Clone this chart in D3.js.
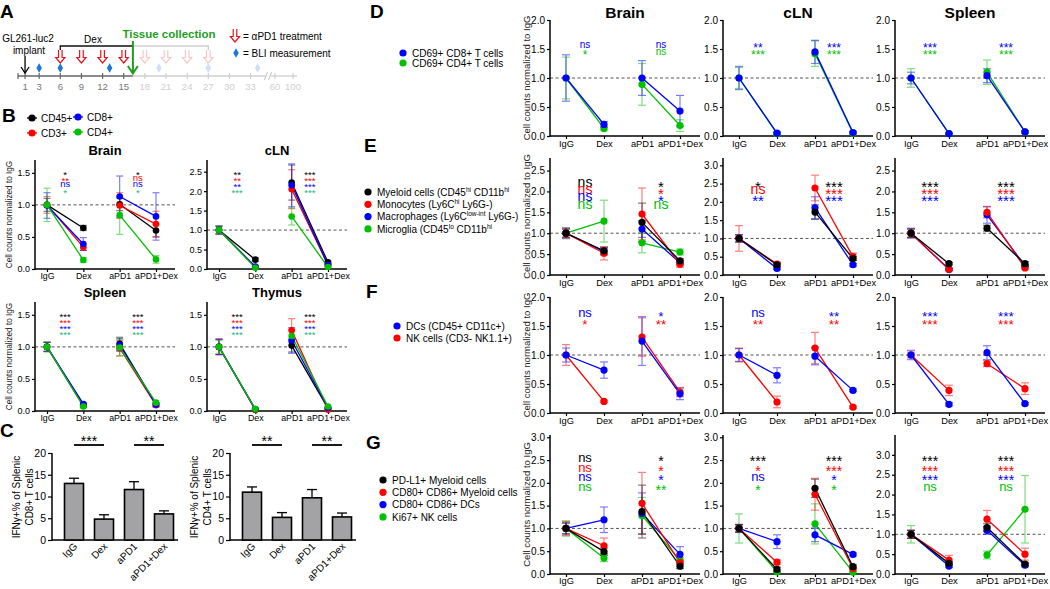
<!DOCTYPE html>
<html><head><meta charset="utf-8">
<script src="https://cdn.jsdelivr.net/npm/d3@7"></script>
<style>body{margin:0;background:#fff}svg{display:block}</style>
</head><body><svg id="chart" width="1050" height="589"></svg>
<script>
// ---------------- DATA ----------------
const groups = ["IgG", "Dex", "aPD1", "aPD1+Dex"];

// Panel A timeline
const tlDays = [1, 3, 6, 9, 12, 15, 18, 21, 24, 27, 30, 33];
const tlLateLabels = ["60", "100"];
const pd1Days = [6, 9, 12, 15, 18, 21, 24, 27];
const bliDays = [3, 6, 13, 20, 27, 34];
const dexStart = 6, dexEnd = 27, implantDay = 1, tissueDay = 16.3;

// Panel B (rows: CD45+, CD3+, CD8+, CD4+; cols: groups)
const bSeries = ["CD45+", "CD3+", "CD8+", "CD4+"];
const bBrainMean = [[1.0, 0.64, 1.01, 0.60], [1.0, 0.34, 0.99, 0.70], [0.99, 0.39, 1.13, 0.82], [1.0, 0.14, 0.84, 0.15]];
const bBrainErr = [[0.10, 0.04, 0.10, 0.10], [0.13, 0.05, 0.20, 0.20], [0.20, 0.10, 0.32, 0.37], [0.26, 0.04, 0.30, 0.06]];
const bCLNMean = [[1.0, 0.24, 2.22, 0.17], [1.0, 0.05, 2.05, 0.10], [1.0, 0.06, 2.15, 0.10], [1.0, 0.03, 1.35, 0.05]];
const bCLNErr = [[0.10, 0.04, 0.45, 0.03], [0.10, 0.02, 0.50, 0.02], [0.10, 0.02, 0.55, 0.02], [0.10, 0.02, 0.22, 0.02]];
const bSpleenMean = [[1.0, 0.09, 1.05, 0.10], [1.0, 0.08, 0.98, 0.09], [1.0, 0.11, 1.03, 0.10], [1.0, 0.07, 0.99, 0.13]];
const bSpleenErr = [[0.07, 0.02, 0.10, 0.03], [0.07, 0.02, 0.12, 0.03], [0.07, 0.02, 0.10, 0.03], [0.08, 0.02, 0.13, 0.03]];
const bThymusMean = [[1.0, 0.02, 1.02, 0.04], [1.0, 0.02, 1.26, 0.02], [1.0, 0.03, 1.10, 0.05], [1.0, 0.03, 1.17, 0.07]];
const bThymusErr = [[0.12, 0.01, 0.10, 0.01], [0.12, 0.01, 0.18, 0.01], [0.12, 0.01, 0.20, 0.01], [0.10, 0.01, 0.10, 0.01]];
const bBrainSig = [["*", "**", "ns", "*"], ["*", "ns", "ns", "*"]];
const bCLNSig = [["**", "**", "**", "***"], ["***", "***", "***", "***"]];
const bSpleenSig = [["***", "***", "***", "***"], ["***", "***", "***", "***"]];
const bThymusSig = [["***", "***", "***", "***"], ["***", "***", "***", "***"]];

// Panel C
const cCD8 = [13.0, 4.8, 11.6, 6.0];
const cCD8Err = [1.2, 1.0, 1.8, 0.7];
const cCD4 = [11.0, 5.2, 9.7, 5.3];
const cCD4Err = [1.2, 1.1, 1.9, 0.9];
const cCD8Sig = ["***", "**"];
const cCD4Sig = ["**", "**"];

// Panel D (rows: CD69+CD8+, CD69+CD4+)
const dSeries = ["CD69+ CD8+ T cells", "CD69+ CD4+ T cells"];
const dBrainMean = [[1.0, 0.20, 1.0, 0.43], [1.0, 0.13, 0.89, 0.18]];
const dBrainErr = [[0.40, 0.05, 0.30, 0.27], [0.36, 0.03, 0.36, 0.10]];
const dCLNMean = [[1.0, 0.05, 1.45, 0.06], [1.0, 0.04, 1.42, 0.05]];
const dCLNErr = [[0.20, 0.02, 0.20, 0.02], [0.18, 0.02, 0.22, 0.02]];
const dSpleenMean = [[1.0, 0.04, 1.04, 0.07], [1.0, 0.04, 1.10, 0.07]];
const dSpleenErr = [[0.10, 0.01, 0.12, 0.02], [0.16, 0.01, 0.21, 0.02]];
const dBrainSig = [["ns", "*"], ["ns", "ns"]];
const dCLNSig = [["**", "***"], ["***", "***"]];
const dSpleenSig = [["***", "***"], ["***", "***"]];

// Panel E (rows: Myeloid, Monocytes, Macrophages, Microglia)
const eBrainMean = [[1.0, 0.58, 1.26, 0.34], [1.0, 0.52, 1.46, 0.26], [1.0, 0.56, 1.10, 0.29], [1.0, 1.29, 0.77, 0.55]];
const eBrainErr = [[0.13, 0.08, 0.46, 0.05], [0.10, 0.16, 0.62, 0.07], [0.10, 0.08, 0.20, 0.05], [0.10, 0.50, 0.24, 0.07]];
const eCLNMean = [[1.0, 0.28, 1.72, 0.45], [1.0, 0.30, 2.38, 0.50], [1.0, 0.18, 1.84, 0.28]];
const eCLNErr = [[0.10, 0.04, 0.20, 0.05], [0.35, 0.05, 0.35, 0.10], [0.10, 0.03, 0.30, 0.04]];
const eSpleenMean = [[1.0, 0.27, 1.12, 0.27], [1.0, 0.14, 1.50, 0.17], [1.0, 0.13, 1.44, 0.22]];
const eSpleenErr = [[0.10, 0.03, 0.07, 0.05], [0.10, 0.03, 0.13, 0.03], [0.12, 0.03, 0.20, 0.03]];
const eBrainSig = [["ns", "ns", "ns", "ns"], ["*", "*", "*", "ns"]];
const eCLNSig = [["*", "ns", "**"], ["***", "***", "***"]];
const eSpleenSig = [["***", "***", "***"], ["***", "***", "***"]];

// Panel F (rows: DCs, NK cells)
const fBrainMean = [[1.0, 0.74, 1.24, 0.33], [1.0, 0.20, 1.31, 0.36]];
const fBrainErr = [[0.12, 0.14, 0.42, 0.10], [0.18, 0.02, 0.33, 0.08]];
const fCLNMean = [[1.0, 0.65, 0.98, 0.39], [1.0, 0.19, 1.12, 0.10]];
const fCLNErr = [[0.11, 0.13, 0.15, 0.02], [0.12, 0.10, 0.27, 0.02]];
const fSpleenMean = [[1.0, 0.15, 1.04, 0.16], [1.0, 0.39, 0.85, 0.42]];
const fSpleenErr = [[0.08, 0.03, 0.12, 0.02], [0.05, 0.09, 0.05, 0.10]];
const fBrainSig = [["ns", "*"], ["*", "**"]];
const fCLNSig = [["ns", "**"], ["**", "**"]];
const fSpleenSig = [["***", "***"], ["***", "***"]];

// Panel G (rows: PD-L1+ Myeloid, CD80+CD86+ Myeloid, CD80+CD86+ DCs, Ki67+ NK)
const gBrainMean = [[1.0, 0.49, 1.37, 0.17], [1.0, 0.62, 1.55, 0.25], [1.0, 1.19, 1.33, 0.43], [1.0, 0.35, 1.28, 0.30]];
const gBrainErr = [[0.12, 0.08, 0.58, 0.05], [0.15, 0.17, 0.68, 0.05], [0.12, 0.28, 0.45, 0.17], [0.17, 0.08, 0.40, 0.06]];
const gCLNMean = [[1.0, 0.10, 1.88, 0.16], [1.0, 0.26, 1.75, 0.12], [1.0, 0.71, 0.86, 0.43], [1.0, 0.05, 1.10, 0.04]];
const gCLNErr = [[0.08, 0.05, 0.20, 0.04], [0.08, 0.05, 0.35, 0.03], [0.09, 0.15, 0.15, 0.03], [0.32, 0.02, 0.44, 0.02]];
const gSpleenMean = [[1.0, 0.27, 1.17, 0.25], [1.0, 0.35, 1.38, 0.50], [1.0, 0.20, 1.10, 0.22], [1.0, 0.25, 0.48, 1.63]];
const gSpleenErr = [[0.10, 0.04, 0.10, 0.04], [0.10, 0.12, 0.22, 0.15], [0.10, 0.04, 0.10, 0.04], [0.22, 0.05, 0.10, 0.85]];
const gBrainSig = [["ns", "ns", "ns", "ns"], ["*", "*", "*", "**"]];
const gCLNSig = [["***", "*", "ns", "*"], ["***", "***", "*", "*"]];
const gSpleenSig = [["***", "***", "***", "ns"], ["***", "***", "***", "ns"]];

// ---------------- DRAWING ----------------
const FONT = "'Liberation Sans', Arial, Helvetica, sans-serif";
const BLACK = "#000000", RED = "#ff0000", BLUE = "#0000ff", GREEN = "#00c000", TEAL = "#22b77a";
const svg = d3.select("#chart").style("font-family", FONT);

function txt(g, x, y, s, o = {}) {
  const t = g.append("text").attr("x", x).attr("y", y).text(s)
    .attr("font-size", o.fs || 10).attr("fill", o.fill || "#000")
    .attr("text-anchor", o.anchor || "start");
  if (o.bold) t.attr("font-weight", "bold");
  if (o.rot) t.attr("transform", `rotate(${o.rot},${x},${y})`);
  return t;
}

function letter(s, x, y) { txt(svg, x, y, s, { fs: 19, bold: true }); }

function sigText(g, cx, cy, s, color, nsFs, starFs) {
  if (s === "ns") txt(g, cx, cy + 0.27 * nsFs, s, { fs: nsFs, fill: color, anchor: "middle" });
  else txt(g, cx, cy + 0.58 * starFs, s, { fs: starFs, fill: color, anchor: "middle" });
}

function linePlot(cfg) {
  const g = svg.append("g");
  const x = d3.scalePoint().domain(groups).range([cfg.x0 + cfg.p0, cfg.x0 + cfg.p1]);
  const y = d3.scaleLinear().domain([0, cfg.yMax]).range([cfg.bottom, cfg.top]);
  g.append("line").attr("x1", cfg.x0).attr("x2", cfg.x0 + cfg.len)
    .attr("y1", y(1)).attr("y2", y(1))
    .attr("stroke", "#555").attr("stroke-width", 1).attr("stroke-dasharray", "3,2.5");
  const ya = g.append("g").attr("transform", `translate(${cfg.x0},0)`)
    .call(d3.axisLeft(y).tickValues(cfg.ticks).tickFormat(d3.format(".1f")).tickSize(3).tickPadding(2));
  const xa = g.append("g").attr("transform", `translate(0,${cfg.bottom})`)
    .call(d3.axisBottom(x).tickSize(3).tickPadding(cfg.xpad !== undefined ? cfg.xpad : 1));
  [ya, xa].forEach(a => {
    a.select(".domain").remove();
    a.attr("font-family", FONT).attr("font-size", cfg.tfs);
    a.selectAll("line").attr("stroke", "#000").attr("stroke-width", 1.2);
    a.selectAll("text").attr("fill", "#000");
  });
  xa.attr("font-size", cfg.xfs);
  g.append("line").attr("x1", cfg.x0).attr("x2", cfg.x0).attr("y1", cfg.top).attr("y2", cfg.bottom + 0.75)
    .attr("stroke", "#000").attr("stroke-width", 1.5);
  g.append("line").attr("x1", cfg.x0).attr("x2", cfg.x0 + cfg.len).attr("y1", cfg.bottom).attr("y2", cfg.bottom)
    .attr("stroke", "#000").attr("stroke-width", 1.5);

  cfg.series.forEach(s => {
    [[0, 1], [2, 3]].forEach(([a, b]) => {
      g.append("line").attr("x1", x(groups[a])).attr("x2", x(groups[b]))
        .attr("y1", y(s.mean[a])).attr("y2", y(s.mean[b]))
        .attr("stroke", s.color).attr("stroke-width", 1.3);
    });
    s.mean.forEach((m, i) => {
      const cx = x(groups[i]);
      const lo = y(Math.max(0, m - s.err[i])), hi = y(m + s.err[i]);
      const eg = g.append("g").attr("stroke", s.color).attr("stroke-width", 1.2).attr("opacity", 0.5);
      eg.append("line").attr("x1", cx).attr("x2", cx).attr("y1", lo).attr("y2", hi);
      eg.append("line").attr("x1", cx - cfg.cap).attr("x2", cx + cfg.cap).attr("y1", lo).attr("y2", lo);
      eg.append("line").attr("x1", cx - cfg.cap).attr("x2", cx + cfg.cap).attr("y1", hi).attr("y2", hi);
    });
  });
  cfg.series.forEach(s => {
    s.mean.forEach((m, i) => {
      g.append("circle").attr("cx", x(groups[i])).attr("cy", y(m)).attr("r", cfg.r).attr("fill", s.color);
    });
  });

  cfg.sig.forEach((col, gi) => {
    const cx = (x(groups[2 * gi]) + x(groups[2 * gi + 1])) / 2;
    col.forEach((lab, i) => sigText(g, cx, cfg.top + cfg.sigY[i], lab, cfg.sigColors[i], cfg.nsFs, cfg.starFs));
  });
  if (cfg.title) txt(g, cfg.x0 + cfg.len / 2, cfg.titleY, cfg.title, { fs: cfg.titleFs, bold: true, anchor: "middle" });
  if (cfg.ylabel) {
    const cy = (cfg.top + cfg.bottom) / 2;
    txt(g, cfg.ylabelX, cy, "Cell counts normalized to IgG", { fs: cfg.ylabelFs, anchor: "middle", rot: -90, fill: "#222" });
  }
}

function mkSeries(means, errs, colors, order) {
  return order.map(i => ({ mean: means[i], err: errs[i], color: colors[i] }));
}

function legend(items, x, y0, dy, fs, withLine) {
  items.forEach((it, i) => {
    const y = y0 + i * dy;
    if (withLine) svg.append("line").attr("x1", x - 5).attr("x2", x + 5).attr("y1", y).attr("y2", y).attr("stroke", it.color).attr("stroke-width", 1.3);
    svg.append("circle").attr("cx", x).attr("cy", y).attr("r", 3.6).attr("fill", it.color);
    const t = txt(svg, x + 9, y + fs * 0.36, "", { fs: fs });
    it.parts.forEach(p => {
      const ts = t.append("tspan").text(p[0]);
      if (p[1] === "sup") ts.attr("font-size", fs * 0.65).attr("dy", -fs * 0.38);
      if (p[1] === "base") ts.attr("dy", fs * 0.38);
    });
  });
}

// ---------- Panel A ----------
letter("A", 0, 18);
(function () {
  const g = svg.append("g");
  const tx = d3.scaleLinear().domain([0, 33]).range([18, 250.6]);
  const ty = 76;
  const dark = "#666", light = "#cfcfcf";
  g.append("line").attr("x1", tx(0)).attr("x2", tx(tissueDay)).attr("y1", ty).attr("y2", ty).attr("stroke", dark).attr("stroke-width", 1.3);
  g.append("line").attr("x1", tx(tissueDay)).attr("x2", 266).attr("y1", ty).attr("y2", ty).attr("stroke", light).attr("stroke-width", 1.3);
  g.append("line").attr("x1", 271).attr("x2", 297).attr("y1", ty).attr("y2", ty).attr("stroke", light).attr("stroke-width", 1.3);
  g.append("path").attr("d", "M264.5,80 L267.5,72 M268.5,80 L271.5,72").attr("stroke", light).attr("stroke-width", 1.2).attr("fill", "none");
  g.append("line").attr("x1", tx(0)).attr("x2", tx(0)).attr("y1", ty - 3).attr("y2", ty + 3).attr("stroke", dark).attr("stroke-width", 1.2);
  tlDays.forEach(d => {
    const c = d <= 15 ? dark : light;
    g.append("line").attr("x1", tx(d)).attr("x2", tx(d)).attr("y1", ty - 3).attr("y2", ty + 3).attr("stroke", c).attr("stroke-width", 1.2);
    txt(g, tx(d), 90, String(d), { fs: 9.5, anchor: "middle", fill: d <= 15 ? "#777" : "#cfcfcf" });
  });
  const late = d3.scalePoint().domain(tlLateLabels).range([275, 293]);
  tlLateLabels.forEach(l => {
    g.append("line").attr("x1", late(l)).attr("x2", late(l)).attr("y1", ty - 3).attr("y2", ty + 3).attr("stroke", light).attr("stroke-width", 1.2);
    txt(g, late(l), 90, l, { fs: 9.5, anchor: "middle", fill: "#cfcfcf" });
  });
  // Dex bracket
  const by = 46;
  g.append("path").attr("d", `M${tx(dexStart)},${by + 5} L${tx(dexStart)},${by} L${tx(tissueDay)},${by}`).attr("stroke", "#111").attr("fill", "none").attr("stroke-width", 1.3);
  g.append("path").attr("d", `M${tx(tissueDay)},${by} L${tx(dexEnd)},${by} L${tx(dexEnd)},${by + 5}`).attr("stroke", light).attr("fill", "none").attr("stroke-width", 1.3);
  txt(g, 93, 43, "Dex", { fs: 10, anchor: "middle" });
  // aPD1 arrows
  function hollowArrow(cx, top, col) {
    const h = 13, sw = 1.8, hw = 4.6, hh = 5.5;
    g.append("path").attr("d", `M${cx - sw},${top} L${cx - sw},${top + h - hh} L${cx - hw},${top + h - hh} L${cx},${top + h} L${cx + hw},${top + h - hh} L${cx + sw},${top + h - hh} L${cx + sw},${top}`)
      .attr("stroke", col).attr("fill", "#fff").attr("stroke-width", 1.2);
  }
  pd1Days.forEach(d => hollowArrow(tx(d), 50, d <= 15 ? "#e8141b" : "#f6c9c9"));
  bliDays.forEach(d => {
    g.append("path").attr("d", d3.symbol().type(d3.symbolDiamond).size(26)()).attr("transform", `translate(${tx(d)},68)`)
      .attr("fill", d <= 15 ? "#1a78d6" : "#cfe0f4");
  });
  // implant arrow
  const ix = tx(implantDay);
  g.append("line").attr("x1", ix).attr("x2", ix).attr("y1", 56).attr("y2", 73).attr("stroke", "#000").attr("stroke-width", 1.3);
  g.append("path").attr("d", `M${ix - 4},67 L${ix},73 L${ix + 4},67`).attr("stroke", "#000").attr("fill", "none").attr("stroke-width", 1.3);
  txt(g, 28, 42, "GL261-luc2", { fs: 10, anchor: "middle" });
  txt(g, 29, 54, "implant", { fs: 10, anchor: "middle" });
  // tissue collection
  const gx = tx(tissueDay);
  g.append("line").attr("x1", gx).attr("x2", gx).attr("y1", 41).attr("y2", 73).attr("stroke", "#1f9d1f").attr("stroke-width", 2);
  g.append("path").attr("d", `M${gx - 5},66 L${gx},73.5 L${gx + 5},66`).attr("stroke", "#1f9d1f").attr("fill", "none").attr("stroke-width", 2);
  txt(g, 169, 38, "Tissue collection", { fs: 11.5, bold: true, anchor: "middle", fill: "#1f9d1f" });
  // legend
  hollowArrow(235, 29, "#e8141b");
  txt(g, 243, 40, "= αPD1 treatment", { fs: 10 });
  g.append("path").attr("d", d3.symbol().type(d3.symbolDiamond).size(26)()).attr("transform", "translate(236,53)").attr("fill", "#1a78d6");
  txt(g, 243, 57, "= BLI measurement", { fs: 10 });
})();

// ---------- Panel B ----------
letter("B", 2, 122);
const bColors = [BLACK, RED, BLUE, GREEN];
const bSigColors = [BLACK, RED, BLUE, TEAL];
legend([{ color: BLACK, parts: [["CD45+"]] }, { color: RED, parts: [["CD3+"]] }], 32, 118, 15, 10, true);
legend([{ color: BLUE, parts: [["CD8+"]] }, { color: GREEN, parts: [["CD4+"]] }], 78, 117, 15, 10, true);
const bBase = { len: 140, p0: 12, p1: 121, tfs: 9, xfs: 8.8, r: 3.3, cap: 3.5, nsFs: 9.5, starFs: 9.7, sigY: [12, 18, 24, 30], sigColors: bSigColors, titleFs: 13, ylabelFs: 8.2 };
const bOrder = [0, 1, 2, 3];
linePlot(Object.assign({}, bBase, { x0: 35, top: 160, bottom: 269, yMax: 1.7, ticks: [0, 0.5, 1.0, 1.5], series: mkSeries(bBrainMean, bBrainErr, bColors, bOrder), sig: bBrainSig, title: "Brain", titleY: 155, ylabel: true, ylabelX: 12 }));
linePlot(Object.assign({}, bBase, { x0: 207, top: 160, bottom: 269, yMax: 2.8, ticks: [0, 0.5, 1.0, 1.5, 2.0, 2.5], series: mkSeries(bCLNMean, bCLNErr, bColors, bOrder), sig: bCLNSig, title: "cLN", titleY: 155 }));
linePlot(Object.assign({}, bBase, { x0: 35, top: 302, bottom: 411, yMax: 1.7, ticks: [0, 0.5, 1.0, 1.5], series: mkSeries(bSpleenMean, bSpleenErr, bColors, bOrder), sig: bSpleenSig, title: "Spleen", titleY: 297, ylabel: true, ylabelX: 12 }));
linePlot(Object.assign({}, bBase, { x0: 207, top: 302, bottom: 411, yMax: 1.7, ticks: [0, 0.5, 1.0, 1.5], series: mkSeries(bThymusMean, bThymusErr, bColors, bOrder), sig: bThymusSig, title: "Thymus", titleY: 297 }));

// ---------- Panel C ----------
letter("C", 0, 437);
function barPlot(cfg) {
  const g = svg.append("g");
  const x = d3.scalePoint().domain(groups).range([cfg.x0 + 22, cfg.x0 + 112]);
  const y = d3.scaleLinear().domain([0, 20]).range([540, 453]);
  const bw = 19;
  const ya = g.append("g").attr("transform", `translate(${cfg.x0},0)`)
    .call(d3.axisLeft(y).tickValues([0, 5, 10, 15, 20]).tickSize(4).tickPadding(2));
  ya.select(".domain").remove();
  ya.attr("font-family", FONT).attr("font-size", 10.5);
  ya.selectAll("line").attr("stroke", "#000").attr("stroke-width", 1.2);
  ya.selectAll("text").attr("fill", "#000");
  g.append("line").attr("x1", cfg.x0).attr("x2", cfg.x0).attr("y1", 453).attr("y2", 540.75).attr("stroke", "#000").attr("stroke-width", 1.5);
  g.append("line").attr("x1", cfg.x0).attr("x2", cfg.x0 + 126).attr("y1", 540).attr("y2", 540).attr("stroke", "#000").attr("stroke-width", 1.5);
  cfg.vals.forEach((v, i) => {
    const cx = x(groups[i]);
    g.append("line").attr("x1", cx).attr("x2", cx).attr("y1", y(v)).attr("y2", y(v + cfg.errs[i])).attr("stroke", "#000").attr("stroke-width", 1.3);
    g.append("line").attr("x1", cx - 5).attr("x2", cx + 5).attr("y1", y(v + cfg.errs[i])).attr("y2", y(v + cfg.errs[i])).attr("stroke", "#000").attr("stroke-width", 1.3);
    g.append("rect").attr("x", cx - bw / 2).attr("y", y(v)).attr("width", bw).attr("height", y(0) - y(v))
      .attr("fill", "#a3a3a6").attr("stroke", "#000").attr("stroke-width", 1.6);
    txt(g, cx + 4, 547, groups[i], { fs: 10, anchor: "end", rot: -45 });
  });
  cfg.sig.forEach((s, k) => {
    const a = x(groups[2 * k]), b = x(groups[2 * k + 1]);
    g.append("line").attr("x1", a).attr("x2", b).attr("y1", 445).attr("y2", 445).attr("stroke", "#000").attr("stroke-width", 1.8);
    txt(g, (a + b) / 2, 446, s, { fs: 14, anchor: "middle" });
  });
  const cy = 497;
  txt(g, cfg.x0 - 32, cy, "IFNγ+% of Splenic", { fs: 10, anchor: "middle", rot: -90 });
  txt(g, cfg.x0 - 19, cy, cfg.label2, { fs: 10, anchor: "middle", rot: -90 });
}
barPlot({ x0: 52, vals: cCD8, errs: cCD8Err, sig: cCD8Sig, label2: "CD8+ T cells" });
barPlot({ x0: 230, vals: cCD4, errs: cCD4Err, sig: cCD4Sig, label2: "CD4+ T cells" });

// ---------- Right side panels ----------
const colX = [550, 723, 895];
const rBase = { len: 150, p0: 16, p1: 130, tfs: 10, xfs: 9.3, r: 3.6, cap: 4, titleFs: 15.5, ylabelFs: 9.5, ylabelX: 530 };

// D
letter("D", 370, 18);
legend([{ color: BLUE, parts: [[dSeries[0]]] }, { color: GREEN, parts: [[dSeries[1]]] }], 403, 53, 10, 10, false);
const dColors = [BLUE, GREEN];
const dCfg = Object.assign({}, rBase, { top: 20, bottom: 136, yMax: 2.0, ticks: [0, 0.5, 1.0, 1.5, 2.0], nsFs: 10, starFs: 12, sigY: [25, 32], sigColors: dColors, titleY: 18 });
linePlot(Object.assign({}, dCfg, { x0: colX[0], series: mkSeries(dBrainMean, dBrainErr, dColors, [1, 0]), sig: dBrainSig, title: "Brain", ylabel: true }));
linePlot(Object.assign({}, dCfg, { x0: colX[1], series: mkSeries(dCLNMean, dCLNErr, dColors, [1, 0]), sig: dCLNSig, title: "cLN" }));
linePlot(Object.assign({}, dCfg, { x0: colX[2], series: mkSeries(dSpleenMean, dSpleenErr, dColors, [1, 0]), sig: dSpleenSig, title: "Spleen" }));

// E
letter("E", 364, 152);
legend([
  { color: BLACK, parts: [["Myeloid cells (CD45"], ["hi", "sup"], [" CD11b", "base"], ["hi", "sup"]] },
  { color: RED, parts: [["Monocytes (Ly6C"], ["hi", "sup"], [" Ly6G-)", "base"]] },
  { color: BLUE, parts: [["Macrophages (Ly6C"], ["low-int", "sup"], [" Ly6G-)", "base"]] },
  { color: GREEN, parts: [["Microglia (CD45"], ["lo", "sup"], [" CD11b", "base"], ["hi", "sup"]] }
], 368, 192, 12.3, 10, false);
const eColors = [BLACK, RED, BLUE, GREEN];
const eCfg = Object.assign({}, rBase, { top: 158, bottom: 275, nsFs: 14, starFs: 15, sigY: [25, 32, 39, 47], sigColors: eColors });
linePlot(Object.assign({}, eCfg, { x0: colX[0], yMax: 2.8, ticks: [0, 0.5, 1.0, 1.5, 2.0, 2.5], series: mkSeries(eBrainMean, eBrainErr, eColors, [3, 2, 1, 0]), sig: eBrainSig, ylabel: true }));
linePlot(Object.assign({}, eCfg, { x0: colX[1], yMax: 3.2, ticks: [0, 0.5, 1.0, 1.5, 2.0, 2.5, 3.0], series: mkSeries(eCLNMean, eCLNErr, eColors, [2, 1, 0]), sig: eCLNSig }));
linePlot(Object.assign({}, eCfg, { x0: colX[2], yMax: 2.8, ticks: [0, 0.5, 1.0, 1.5, 2.0, 2.5], series: mkSeries(eSpleenMean, eSpleenErr, eColors, [2, 1, 0]), sig: eSpleenSig }));

// F
letter("F", 366, 298);
legend([{ color: BLUE, parts: [["DCs (CD45+ CD11c+)"]] }, { color: RED, parts: [["NK cells (CD3- NK1.1+)"]] }], 397, 326, 12, 10, false);
const fColors = [BLUE, RED];
const fCfg = Object.assign({}, rBase, { top: 297, bottom: 413, yMax: 2.0, ticks: [0, 0.5, 1.0, 1.5, 2.0], nsFs: 13, starFs: 13.5, sigY: [16, 24], sigColors: fColors });
linePlot(Object.assign({}, fCfg, { x0: colX[0], series: mkSeries(fBrainMean, fBrainErr, fColors, [1, 0]), sig: fBrainSig, ylabel: true }));
linePlot(Object.assign({}, fCfg, { x0: colX[1], series: mkSeries(fCLNMean, fCLNErr, fColors, [1, 0]), sig: fCLNSig }));
linePlot(Object.assign({}, fCfg, { x0: colX[2], series: mkSeries(fSpleenMean, fSpleenErr, fColors, [1, 0]), sig: fSpleenSig }));

// G
letter("G", 366, 449);
legend([
  { color: BLACK, parts: [["PD-L1+ Myeloid cells"]] },
  { color: RED, parts: [["CD80+ CD86+ Myeloid cells"]] },
  { color: BLUE, parts: [["CD80+ CD86+ DCs"]] },
  { color: GREEN, parts: [["Ki67+ NK cells"]] }
], 383, 480, 12.3, 10, false);
const gColors = [BLACK, RED, BLUE, GREEN];
const gCfg = Object.assign({}, rBase, { top: 435, bottom: 574, xpad: 0, nsFs: 13, starFs: 14, sigY: [23, 33, 42, 52], sigColors: gColors });
linePlot(Object.assign({}, gCfg, { x0: colX[0], yMax: 3.05, ticks: [0, 0.5, 1.0, 1.5, 2.0, 2.5, 3.0], series: mkSeries(gBrainMean, gBrainErr, gColors, [3, 2, 1, 0]), sig: gBrainSig, ylabel: true }));
linePlot(Object.assign({}, gCfg, { x0: colX[1], yMax: 3.05, ticks: [0, 0.5, 1.0, 1.5, 2.0, 2.5, 3.0], series: mkSeries(gCLNMean, gCLNErr, gColors, [3, 2, 1, 0]), sig: gCLNSig }));
linePlot(Object.assign({}, gCfg, { x0: colX[2], yMax: 3.5, ticks: [0, 0.5, 1.0, 1.5, 2.0, 2.5, 3.0], series: mkSeries(gSpleenMean, gSpleenErr, gColors, [3, 2, 1, 0]), sig: gSpleenSig }));
</script>
</body></html>
